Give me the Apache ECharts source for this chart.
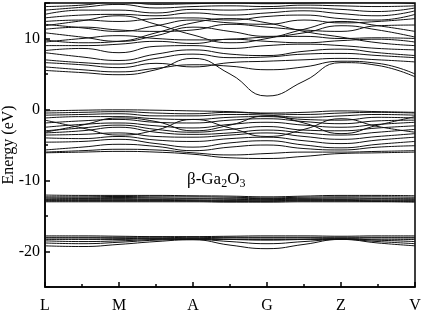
<!DOCTYPE html>
<html>
<head>
<meta charset="utf-8">
<script src="https://cdn.jsdelivr.net/npm/echarts@6/dist/echarts.min.js"></script>
<style>
  html, body { margin: 0; padding: 0; background: #fff; }
  #chart { width: 422px; height: 316px; }
</style>
</head>
<body>
<div id="chart"></div>
<script>
// k path samples (L, M, A, G, Z, V at integer positions, midpoints between)
const kPoints = [0, 0.5, 1, 1.5, 2, 2.5, 3, 3.5, 4, 4.5, 5]
const kLabels = ['L', 'M', 'A', 'G', 'Z', 'V']

// energies (eV), one row per band
const conductionBands = [
  [5.5, 5.2, 4.9, 5.6, 7.2, 5.0, 1.9, 4.0, 6.6, 6.2, 4.6],
  [6.0, 5.6, 5.3, 5.8, 6.3, 6.1, 5.6, 6.0, 6.8, 6.5, 5.0],
  [6.6, 6.3, 5.9, 6.5, 6.0, 6.6, 6.8, 7.0, 7.2, 7.0, 6.7],
  [7.0, 6.6, 6.4, 7.2, 7.8, 7.3, 7.4, 7.8, 7.9, 7.6, 7.3],
  [8.0, 7.4, 6.9, 7.8, 8.4, 7.8, 7.6, 8.2, 8.5, 8.0, 7.6],
  [8.3, 8.6, 8.0, 8.9, 9.0, 8.6, 9.0, 9.2, 9.0, 8.6, 8.4],
  [9.0, 9.0, 9.2, 9.6, 9.3, 9.9, 9.6, 9.4, 9.7, 9.9, 9.5],
  [9.5, 10.0, 10.4, 10.0, 9.8, 9.9, 10.2, 10.3, 10.0, 10.1, 10.0],
  [10.8, 10.2, 9.6, 10.4, 11.6, 11.0, 10.3, 10.8, 11.8, 11.2, 10.2],
  [11.3, 11.6, 11.2, 11.0, 11.2, 12.0, 11.6, 11.2, 11.0, 11.8, 11.9],
  [12.0, 11.5, 11.0, 11.8, 12.6, 12.2, 12.0, 12.6, 12.2, 12.4, 12.8],
  [12.4, 12.6, 12.4, 12.8, 12.9, 12.6, 13.1, 13.3, 12.8, 12.6, 13.4],
  [12.9, 13.3, 13.4, 13.2, 13.6, 13.3, 13.6, 13.9, 13.5, 13.2, 13.9],
  [13.4, 14.0, 14.0, 13.6, 14.1, 14.0, 14.2, 14.3, 14.1, 13.8, 14.3],
  [14.0, 14.4, 14.8, 14.3, 14.5, 14.6, 14.5, 14.7, 14.6, 14.5, 14.6],
  [14.5, 14.7, 15.2, 14.8, 14.9, 15.0, 14.9, 15.0, 15.1, 15.1, 14.9],
  [11.8, 12.5, 13.2, 12.0, 10.5, 9.4, 10.0, 11.3, 12.4, 11.8, 11.0],
  [9.8, 9.4, 9.6, 10.8, 12.2, 12.8, 12.2, 11.0, 10.2, 9.4, 9.0]
]

const valenceBands = [
  [-0.2, -0.1, -0.05, -0.1, -0.2, -0.3, -0.5, -0.4, -0.2, -0.3, -0.4],
  [-0.5, -0.4, -0.3, -0.5, -0.6, -0.4, -0.6, -0.7, -0.5, -0.4, -0.5],
  [-0.8, -0.7, -0.6, -0.9, -0.9, -0.7, -0.8, -1.1, -0.9, -0.7, -0.8],
  [-1.2, -1.0, -1.0, -1.3, -1.4, -1.1, -1.0, -1.4, -1.5, -1.1, -1.2],
  [-1.9, -1.6, -1.4, -1.8, -1.9, -1.5, -1.3, -1.7, -2.0, -1.6, -1.5],
  [-2.5, -2.1, -1.9, -2.3, -2.6, -2.1, -1.8, -2.2, -2.5, -2.1, -1.8],
  [-3.0, -2.6, -2.2, -2.8, -3.2, -2.8, -2.4, -2.9, -3.0, -2.6, -2.3],
  [-3.3, -3.0, -2.5, -3.2, -3.5, -3.3, -2.9, -3.3, -3.6, -3.2, -2.8],
  [-3.6, -3.5, -3.3, -3.8, -3.9, -3.6, -3.3, -3.8, -4.2, -3.8, -3.4],
  [-4.0, -4.1, -3.8, -4.3, -4.5, -4.1, -3.9, -4.4, -4.8, -4.3, -3.9],
  [-4.6, -4.5, -4.2, -4.8, -5.3, -4.7, -4.4, -5.0, -5.4, -4.9, -4.5],
  [-5.7, -5.3, -4.9, -5.2, -5.8, -5.3, -5.0, -5.5, -5.7, -5.3, -5.1],
  [-6.0, -5.8, -5.6, -5.7, -6.1, -6.4, -6.2, -6.0, -6.0, -5.9, -5.8],
  [-6.1, -6.0, -5.9, -6.0, -6.3, -6.8, -6.9, -6.6, -6.2, -6.1, -6.0],
  [-3.2, -2.2, -1.2, -1.7, -3.0, -2.2, -0.9, -1.9, -3.4, -2.2, -1.0],
  [-1.5, -2.6, -3.6, -2.9, -1.4, -2.6, -3.8, -2.8, -1.3, -2.4, -3.2]
]

const semicoreBands = [
  [-12.05, -12.1, -12.1, -12.1, -12.15, -12.2, -12.3, -12.2, -12.1, -12.1, -12.15],
  [-12.3, -12.3, -12.25, -12.3, -12.3, -12.35, -12.45, -12.35, -12.3, -12.3, -12.35],
  [-12.45, -12.45, -12.4, -12.45, -12.5, -12.5, -12.55, -12.5, -12.45, -12.5, -12.5],
  [-12.6, -12.55, -12.55, -12.6, -12.6, -12.65, -12.7, -12.6, -12.6, -12.6, -12.65],
  [-12.7, -12.7, -12.7, -12.7, -12.75, -12.8, -12.75, -12.7, -12.7, -12.75, -12.75],
  [-12.8, -12.8, -12.8, -12.8, -12.85, -12.9, -12.85, -12.8, -12.8, -12.85, -12.85],
  [-12.9, -12.9, -12.9, -12.9, -12.9, -12.95, -12.95, -12.9, -12.9, -12.95, -12.95],
  [-13.0, -13.0, -13.0, -13.0, -13.0, -13.05, -13.05, -13.0, -13.0, -13.0, -13.05]
]

const deepBands = [
  [-17.8, -17.8, -17.85, -17.9, -17.9, -17.85, -17.8, -17.8, -17.85, -17.8, -17.8],
  [-18.0, -18.0, -18.0, -18.0, -18.05, -18.0, -18.0, -18.0, -18.0, -18.0, -18.0],
  [-18.1, -18.1, -18.15, -18.2, -18.2, -18.1, -18.1, -18.1, -18.15, -18.1, -18.1],
  [-18.3, -18.3, -18.3, -18.2, -18.3, -18.3, -18.3, -18.3, -18.3, -18.35, -18.3],
  [-18.5, -18.6, -18.5, -18.3, -18.2, -18.3, -18.4, -18.3, -18.2, -18.4, -18.6],
  [-18.8, -18.9, -18.7, -18.4, -18.3, -18.6, -18.9, -18.6, -18.3, -18.6, -18.9],
  [-19.2, -19.3, -19.0, -18.6, -18.35, -19.1, -19.6, -19.0, -18.3, -18.8, -19.2]
]

const allBands = [].concat(conductionBands, valenceBands, semicoreBands, deepBands)
const serifFont = '"Liberation Serif", "Times New Roman", serif'

let myChart = echarts.init(document.getElementById('chart'))
myChart.setOption({
  animation: false,
  grid: {
    left: 45, right: 7, top: 3, bottom: 29,
    outerBoundsMode: 'none',
    containLabel: false,
    show: true, borderColor: '#000', borderWidth: 1.5
  },
  xAxis: {
    type: 'value',
    min: 0,
    max: 5,
    interval: 1,
    axisLine: { onZero: false, lineStyle: { color: '#000', width: 1.5 } },
    axisTick: { inside: true, length: 5, lineStyle: { color: '#000', width: 1.5 } },
    minorTick: { show: true, splitNumber: 2, length: 3, lineStyle: { color: '#000', width: 1.5 } },
    splitLine: { show: false },
    axisLabel: {
      margin: 11,
      color: '#000',
      fontFamily: serifFont,
      fontSize: 16,
      formatter: v => kLabels[Math.round(v)]
    }
  },
  yAxis: {
    type: 'value',
    min: -25,
    max: 15,
    minInterval: 10,
    maxInterval: 10,
    name: 'Energy (eV)',
    nameLocation: 'middle',
    nameGap: 28,
    nameMoveOverlap: false,
    nameTextStyle: { color: '#000', fontFamily: serifFont, fontSize: 16 },
    axisLine: { onZero: false, lineStyle: { color: '#000', width: 1.5 } },
    axisTick: { inside: true, length: 5, lineStyle: { color: '#000', width: 1.5 } },
    minorTick: { show: true, splitNumber: 2, length: 3, lineStyle: { color: '#000', width: 1.5 } },
    splitLine: { show: false },
    axisLabel: {
      margin: 5,
      color: '#000',
      fontFamily: serifFont,
      fontSize: 16,
      formatter: v => (v % 10 === 0 ? String(v) : '')
    }
  },
  graphic: [{
    type: 'text',
    left: 187,
    top: 171,
    style: {
      text: '{n|β-Ga}{s|2}{n|O}{s|3}',
      fill: '#000',
      rich: {
        n: { fontFamily: serifFont, fontSize: 17, lineHeight: 20 },
        s: { fontFamily: serifFont, fontSize: 12, lineHeight: 10, verticalAlign: 'bottom' }
      }
    }
  }],
  series: allBands.map(band => ({
    type: 'line',
    data: band.map((e, i) => [kPoints[i], e]),
    smooth: 0.5,
    symbol: 'none',
    silent: true,
    lineStyle: { color: '#111', width: 1 }
  }))
})
</script>
</body>
</html>
